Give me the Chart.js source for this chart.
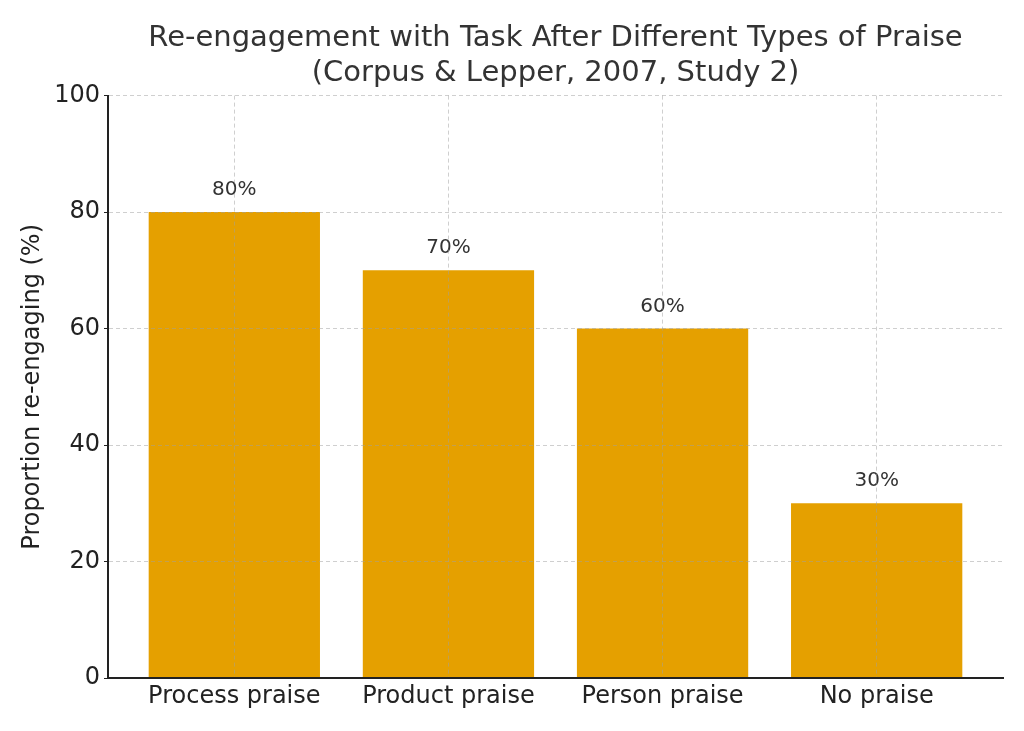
<!DOCTYPE html>
<html>
<head>
<meta charset="utf-8">
<script src="https://cdn.jsdelivr.net/npm/chart.js@4/dist/chart.umd.min.js"></script>
<style>
  html, body { margin: 0; padding: 0; background: #fff; }
  canvas { display: block; }
</style>
</head>
<body>
<canvas id="grafico" width="1024" height="731"></canvas>
<script>
const categorias = ['Process praise', 'Product praise', 'Person praise', 'No praise'];
const valores = [80, 70, 60, 30];
const ticksY = [0, 20, 40, 60, 80, 100];

const fuente = "'DejaVu Sans', sans-serif";
const colorBarra = '#E5A000';
const colorGrid = 'rgba(160,160,160,0.5)';

// etiquetas "80%" encima de cada barra
const etiquetasBarras = {
  id: 'etiquetasBarras',
  afterDatasetsDraw(chart) {
    const ctx = chart.ctx;
    const meta = chart.getDatasetMeta(0);
    ctx.save();
    ctx.font = '20px ' + fuente;
    ctx.fillStyle = '#333';
    ctx.textAlign = 'center';
    ctx.textBaseline = 'alphabetic';
    meta.data.forEach((bar, i) => {
      ctx.fillText(valores[i] + '%', bar.x, bar.y - 17);
    });
    ctx.restore();
  }
};

new Chart(document.getElementById('grafico'), {
  type: 'bar',
  data: {
    datasets: [{
      label: 'Proporción',
      data: valores.map((v, i) => ({ x: i, y: v })),
      backgroundColor: colorBarra,
      borderWidth: 0,
      barPercentage: 0.8,
      categoryPercentage: 1.0
    }]
  },
  options: {
    responsive: false,
    animation: false,
    devicePixelRatio: 1,
    layout: { padding: { top: 0, right: 21, bottom: 0, left: 0 } },
    plugins: {
      legend: { display: false },
      tooltip: { enabled: false },
      title: {
        display: true,
        fullSize: false,
        text: ['Re-engagement with Task After Different Types of Praise', '(Corpus & Lepper, 2007, Study 2)'],
        color: '#333',
        font: { family: fuente, size: 29, weight: 'normal', lineHeight: 1.2 },
        padding: { top: 21, bottom: 5 }
      }
    },
    scales: {
      x: {
        type: 'linear',
        min: -0.59,
        max: 3.59,
        offset: false,
        afterBuildTicks(scale) {
          scale.ticks = categorias.map((c, i) => ({ value: i }));
        },
        afterFit(scale) { scale.height = 53; },
        ticks: {
          color: '#222',
          font: { family: fuente, size: 24 },
          padding: 4,
          autoSkip: false,
          maxRotation: 0,
          callback: (v) => categorias[v] ?? ''
        },
        grid: {
          offset: false,
          z: 1,
          color: colorGrid,
          drawTicks: false,
          lineWidth: 1
        },
        border: { display: true, color: '#222', width: 2, dash: [4, 3], z: 2 }
      },
      y: {
        min: 0,
        max: 100,
        afterBuildTicks(scale) {
          scale.ticks = ticksY.map(v => ({ value: v }));
        },
        afterFit(scale) { scale.width = 108; },
        ticks: {
          color: '#222',
          font: { family: fuente, size: 24 },
          padding: 4
        },
        grid: {
          z: 1,
          color: colorGrid,
          tickColor: '#222',
          tickLength: 4,
          tickBorderDash: [],
          lineWidth: 1
        },
        border: { display: true, color: '#222', width: 2, dash: [4, 3], z: 2 },
        title: {
          display: true,
          text: 'Proportion re-engaging (%)',
          color: '#222',
          font: { family: fuente, size: 24, lineHeight: 1.2 },
          padding: { top: 18, bottom: 0 }
        }
      }
    }
  },
  plugins: [etiquetasBarras]
});
</script>
</body>
</html>
